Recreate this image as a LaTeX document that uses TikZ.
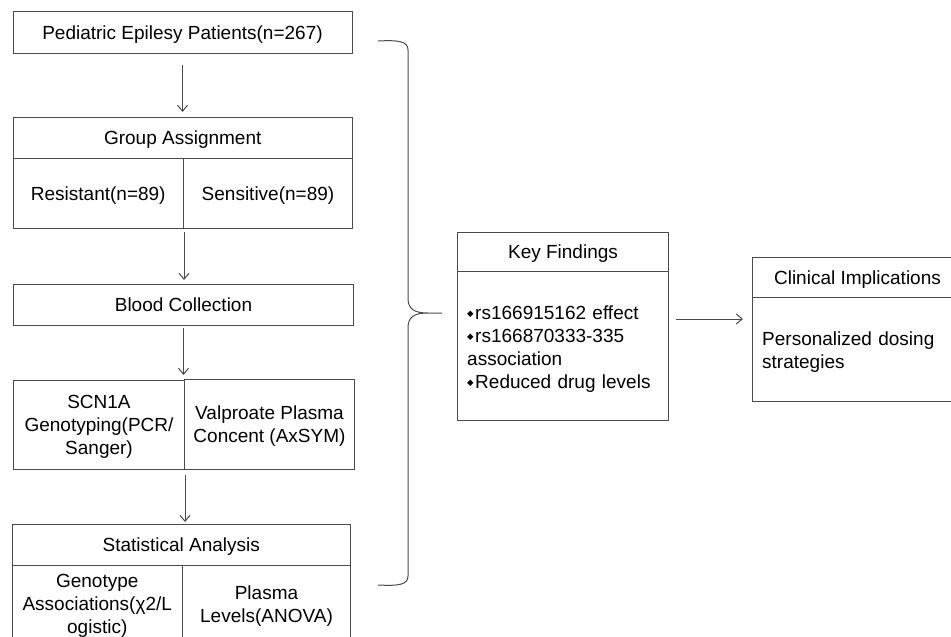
\documentclass[tikz,border=0pt]{standalone}
\usepackage{fontspec}
\setmainfont{Liberation Sans}
\newfontfamily\dejavu{DejaVu Sans}
\usetikzlibrary{arrows.meta}
\definecolor{lc}{HTML}{4A4A4A}
\newcommand{\bul}{\raisebox{2.5pt}{\dejavu\fontsize{8.5}{8.5}\selectfont ◆}\kern1.5pt}
\begin{document}
\begin{tikzpicture}[x=1pt,y=-1pt,
 box/.style={draw=lc, line width=1pt, inner sep=0pt, align=center, anchor=north west, text depth=0pt, font=\fontsize{19}{23}\selectfont},
 frame/.style={draw=lc, line width=1pt, inner sep=0pt, anchor=north west},
 ltext/.style={inner sep=0pt, align=left, anchor=west, text width=#1, font=\fontsize{19}{23}\selectfont},
 arr/.style={draw=lc, line width=1pt, -{Straight Barb[length=6pt,width=10pt]}}]
\useasboundingbox (0,0) rectangle (951,637);
% left column
\node[box, minimum width=339pt, minimum height=42pt] (pat) at (12.5,11) {Pediatric Epilesy Patients(n=267)};
\node[box, minimum width=339.5pt, minimum height=41pt] (grp) at (12.5,117) {Group Assignment};
\node[box, minimum width=170.5pt, minimum height=70pt] (res) at (12.5,158) {Resistant(n=89)};
\node[box, minimum width=169pt, minimum height=70pt] (sen) at (183,158) {Sensitive(n=89)};
\node[box, minimum width=340pt, minimum height=41pt] (blood) at (13,284) {Blood Collection};
\node[box, minimum width=171pt, minimum height=89pt] (gen) at (13,380) {SCN1A\\Genotyping(PCR/\\Sanger)};
\node[box, minimum width=170pt, minimum height=90pt] (val) at (184,379) {Valproate Plasma\\Concent (AxSYM)};
\node[box, minimum width=338.5pt, minimum height=41pt] (stat) at (11.5,524) {Statistical Analysis};
\node[box, minimum width=170.5pt, minimum height=77pt] (ga) at (11.5,565) {Genotype\\Associations(χ2/L\\ogistic)};
\node[box, minimum width=168pt, minimum height=77pt] (pl) at (182,565) {Plasma\\Levels(ANOVA)};
% key findings
\node[box, minimum width=211pt, minimum height=39pt] (kfh) at (457,232) {Key Findings};
\node[frame, minimum width=211pt, minimum height=149pt] (kfb) at (457,271) {};
\node[ltext=191pt] (kft) at ([xshift=10pt,yshift=-3pt]kfb.west) {\bul rs166915162 effect\\\bul rs166870333-335\\association\\\bul Reduced drug levels};
% clinical implications
\node[box, minimum width=210pt, minimum height=40pt] (cih) at (752,257) {Clinical Implications};
\node[frame, minimum width=210pt, minimum height=104pt] (cib) at (752,297) {};
\node[ltext=190pt] (cit) at ([xshift=10pt,yshift=-3pt]cib.west) {Personalized dosing\\strategies};
% arrows
\draw[arr, shorten <=11pt, shorten >=5pt] (pat.south) -- (pat.south |- grp.north);
\draw[arr, shorten <=3pt, shorten >=4pt] (res.south east) -- (res.south east |- blood.north);
\draw[arr, shorten <=2pt, shorten >=5pt] (blood.south) -- (blood.south |- gen.north);
\draw[arr, shorten <=5pt, shorten >=2pt] (gen.south east) -- (gen.south east |- stat.north);
\coordinate (lvl) at (0,319);
\draw[arr, shorten <=7pt, shorten >=9pt] (kfb.east |- lvl) -- (cib.west |- lvl);
% brace
\draw[draw=lc, line width=1pt] (378,41) .. controls (398,40) and (408,41) .. (408,50) -- (408,298)
  .. controls (408,309) and (414,313) .. (428,313) -- (442,313) -- (428,313)
  .. controls (414,313) and (408,317) .. (408,328) -- (408,576)
  .. controls (408,585) and (398,586) .. (378,585);
\end{tikzpicture}
\end{document}
